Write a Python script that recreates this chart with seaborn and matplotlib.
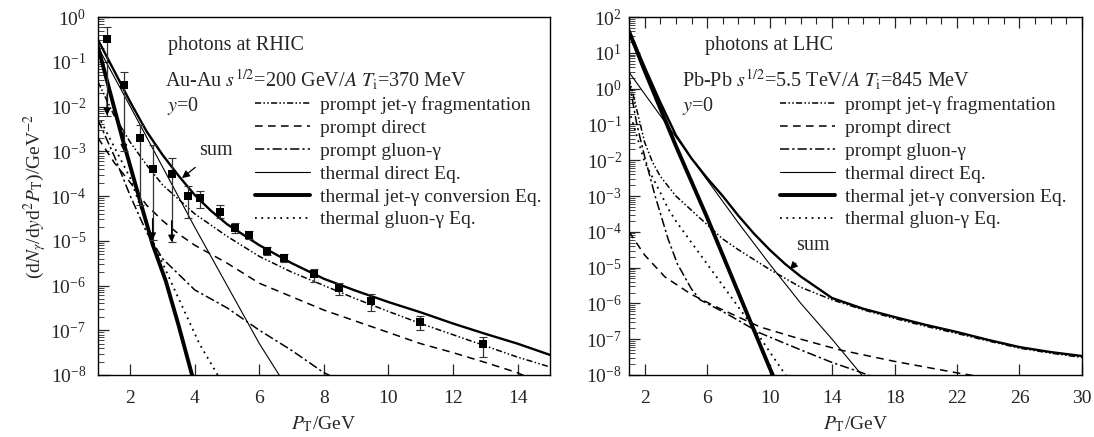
import numpy as np
import matplotlib
matplotlib.use("Agg")
import matplotlib.pyplot as plt
import seaborn as sns
from matplotlib.ticker import LogLocator, FixedLocator, MultipleLocator, NullFormatter

# ---------------- RHIC (left) : values as log10 -------------
rhic_sum_x = [1, 1.5, 2, 2.5, 3, 3.5, 4, 4.5, 5, 6, 7, 8, 9, 10, 11, 12, 13, 14, 15]
rhic_sum_lg = [-0.51, -1.2, -1.9, -2.55, -3.08, -3.55, -3.98, -4.33, -4.63, -5.1, -5.5, -5.85,
               -6.12, -6.37, -6.6, -6.85, -7.08, -7.3, -7.55]
rhic_frag_x = [1, 1.5, 2, 2.5, 3, 4, 5, 6, 7, 8, 9, 10, 11, 12, 13, 14, 15]
rhic_frag_lg = [-1.45, -2.2, -2.8, -3.3, -3.75, -4.4, -4.9, -5.35, -5.7, -6.0, -6.3, -6.58,
                -6.85, -7.1, -7.35, -7.6, -7.82]
rhic_direct_x = [1, 1.5, 2, 2.5, 3, 3.5, 4, 5, 6, 7, 8, 9, 10, 11, 12, 13, 14, 14.3]
rhic_direct_lg = [-2.7, -3.25, -3.7, -4.2, -4.55, -4.85, -5.1, -5.5, -5.95, -6.25, -6.55, -6.8,
                  -7.05, -7.3, -7.5, -7.72, -7.95, -8.05]
rhic_gluon_x = [1, 1.5, 2, 2.5, 3, 4, 5, 6, 7, 8, 8.3]
rhic_gluon_lg = [-2.3, -3.1, -4.0, -4.8, -5.4, -6.1, -6.5, -7.0, -7.45, -7.95, -8.05]
rhic_thdir_x = [1, 2, 3, 4, 5, 6, 6.7]
rhic_thdir_lg = [-0.67, -2.0, -3.35, -4.7, -6.0, -7.3, -8.1]
rhic_conv_x = [1, 1.75, 2.3, 2.7, 3.1, 3.5, 3.95]
rhic_conv_lg = [-0.67, -2.7, -4.1, -5.1, -5.9, -6.9, -8.1]
rhic_thglu_x = [1, 1.5, 2, 2.66, 3, 3.42, 4.14, 4.75]
rhic_thglu_lg = [-2.2, -2.9, -3.6, -4.95, -5.5, -6.17, -7.3, -8.05]

# PHENIX-like data points (log10 values), upper and lower ends of the bars
data_pt = [1.28, 1.80, 2.29, 2.69, 3.28, 3.80, 4.17, 4.78, 5.25, 5.68, 6.25, 6.77,
           7.68, 8.48, 9.46, 10.97, 12.94]
data_lg = [-0.49, -1.52, -2.70, -3.40, -3.51, -4.0, -4.04, -4.36, -4.71, -4.87, -5.23, -5.39,
           -5.74, -6.06, -6.35, -6.82, -7.31]
data_hi_lg = [-0.22, -1.22, -2.41, -2.86, -3.15, -3.78, -3.89, -4.2, -4.6, -4.78, -5.15, -5.3,
              -5.63, -5.94, -6.19, -6.68, -7.15]
data_lo_lg = [-2.2, -3.0, -4.2, -4.98, -5.03, -4.49, -4.27, -4.49, -4.82, -4.97, -5.31, -5.48,
              -5.92, -6.21, -6.57, -7.0, -7.6]
data_arrow = [1, 1, 0, 1, 1, 0, 0, 0, 0, 0, 0, 0, 0, 0, 0, 0, 0]

# ---------------- LHC (right) -------------
lhc_sum_x = [1, 2, 3, 4, 5, 6, 7, 8, 9, 10, 11, 12, 14, 16, 18, 20, 22, 24, 26, 28, 30]
lhc_sum_lg = [1.62, 0.6, -0.38, -1.3, -1.95, -2.5, -3.0, -3.55, -4.05, -4.5, -4.9, -5.25,
              -5.85, -6.15, -6.38, -6.6, -6.8, -7.02, -7.22, -7.36, -7.47]
lhc_frag_x = [1, 1.5, 2, 2.5, 3, 4, 5, 6, 7, 8, 10, 12, 14, 16, 18, 20, 22, 24, 26, 28, 30]
lhc_frag_lg = [0.3, -0.6, -1.5, -2.05, -2.45, -3.0, -3.4, -3.8, -4.2, -4.5, -5.05, -5.55,
               -5.9, -6.18, -6.42, -6.64, -6.84, -7.05, -7.25, -7.39, -7.51]
lhc_direct_x = [1, 2, 3.3, 5, 6.6, 9.4, 12, 14.5, 18, 22, 23.5]
lhc_direct_lg = [-4.0, -4.65, -5.26, -5.75, -6.1, -6.66, -7.0, -7.3, -7.62, -7.94, -8.05]
lhc_gluon_x = [1, 1.5, 2, 2.67, 3.5, 4.1, 5, 5.55, 7.3, 9.4, 12, 14, 15.8, 16.6]
lhc_gluon_lg = [0.2, -1.0, -1.9, -3.0, -4.2, -4.9, -5.6, -5.9, -6.3, -6.83, -7.3, -7.65, -7.92, -8.05]
lhc_thdir_x = [1, 2, 4, 6, 8, 10, 12, 14, 16]
lhc_thdir_lg = [0.46, -0.15, -1.35, -2.55, -3.75, -4.9, -6.0, -7.0, -8.05]
lhc_conv_x = [1, 2, 3, 4, 5, 6, 7, 8, 9, 10, 10.4]
lhc_conv_lg = [1.6, 0.5, -0.55, -1.6, -2.6, -3.6, -4.65, -5.7, -6.75, -7.8, -8.2]
lhc_thglu_x = [1, 2, 3, 3.5, 4, 5, 6, 7, 8, 9, 10, 11.1]
lhc_thglu_lg = [-0.6, -2.05, -2.9, -3.35, -3.7, -4.3, -4.9, -5.5, -6.1, -6.7, -7.35, -8.05]

legend_labels = ["prompt jet-γ fragmentation", "prompt direct", "prompt gluon-γ",
                 "thermal direct Eq.", "thermal jet-γ conversion Eq.", "thermal gluon-γ Eq."]

# ---------------- style -------------
sns.set_style("ticks")
plt.rcParams['font.family'] = ['Liberation Serif', 'DejaVu Serif']
plt.rcParams['mathtext.fontset'] = 'stix'
plt.rcParams['axes.linewidth'] = 1.0

styles = [
    dict(lw=1.1, ls=(0, (4, 1.5, 1, 1.5, 1, 1.5))),   # frag
    dict(lw=1.1, ls=(0, (5, 3.5))),                  # direct
    dict(lw=1.1, ls=(0, (6, 2, 1.5, 2))),            # gluon
    dict(lw=0.8, ls='-'),                            # thermal direct
    dict(lw=2.8, ls='-'),                            # conversion
    dict(lw=1.3, ls=(0, (1, 2.5))),                  # thermal gluon
]

fig = plt.figure(figsize=(10.94, 4.37), dpi=100)
ax1 = fig.add_axes([0.0896, 0.1419, 0.413, 0.819])
ax2 = fig.add_axes([0.575, 0.1419, 0.414, 0.819])


def draw_curves(ax, curves, sum_curve):
    handles = []
    for (x, lg), st, lab in zip(curves, styles, legend_labels):
        sns.lineplot(x=np.asarray(x, float), y=10.0 ** np.asarray(lg), ax=ax, color='black',
                     linewidth=st['lw'], linestyle=st['ls'], sort=False, estimator=None)
        ln = ax.lines[-1]
        ln.set_label(lab)
        handles.append(ln)
    sx, slg = sum_curve
    sns.lineplot(x=np.asarray(sx, float), y=10.0 ** np.asarray(slg), ax=ax, color='black',
                 linewidth=1.7, sort=False, estimator=None)
    return handles


h1 = draw_curves(ax1, [(rhic_frag_x, rhic_frag_lg), (rhic_direct_x, rhic_direct_lg),
                       (rhic_gluon_x, rhic_gluon_lg), (rhic_thdir_x, rhic_thdir_lg),
                       (rhic_conv_x, rhic_conv_lg), (rhic_thglu_x, rhic_thglu_lg)],
                 (rhic_sum_x, rhic_sum_lg))
h2 = draw_curves(ax2, [(lhc_frag_x, lhc_frag_lg), (lhc_direct_x, lhc_direct_lg),
                       (lhc_gluon_x, lhc_gluon_lg), (lhc_thdir_x, lhc_thdir_lg),
                       (lhc_conv_x, lhc_conv_lg), (lhc_thglu_x, lhc_thglu_lg)],
                 (lhc_sum_x, lhc_sum_lg))

# data points with error bars
dy = 10.0 ** np.asarray(data_lg)
dhi = 10.0 ** np.asarray(data_hi_lg)
dlo = 10.0 ** np.asarray(data_lo_lg)
ax1.errorbar(data_pt, dy, yerr=[dy - dlo, dhi - dy], fmt='none', ecolor='#333333',
             elinewidth=0.9, capsize=3, capthick=0.8, zorder=3)
sns.scatterplot(x=data_pt, y=dy, ax=ax1, marker='s', color='black', s=38,
                edgecolor='black', linewidth=0, zorder=4)
for xp, yp, lo, fl in zip(data_pt, dy, dlo, data_arrow):
    if fl:
        ax1.annotate('', xy=(xp, lo), xytext=(xp, lo * 3.0),
                     arrowprops=dict(arrowstyle='-|>', color='black', lw=0.9,
                                     mutation_scale=10, shrinkA=0, shrinkB=0))

# axes setup
for ax, xlim, ylim, xt, ypad in [(ax1, (1, 15), (1e-8, 1), [2, 4, 6, 8, 10, 12, 14], 8.5),
                                 (ax2, (1, 30), (1e-8, 1e2), [2, 6, 10, 14, 18, 22, 26, 30], 5)]:
    ax.set_yscale('log')
    ax.set_xlim(*xlim)
    ax.set_ylim(*ylim)
    ax.xaxis.set_major_locator(FixedLocator(xt))
    ax.yaxis.set_major_locator(LogLocator(base=10, numticks=20))
    ax.yaxis.set_minor_locator(LogLocator(base=10, subs=np.arange(2, 10), numticks=50))
    ax.yaxis.set_minor_formatter(NullFormatter())
    ax.tick_params(axis='both', which='major', direction='in', length=8, width=0.9,
                   labelsize=14, right=False, top=False)
    ax.tick_params(axis='x', which='major', pad=11)
    ax.tick_params(axis='y', which='major', pad=ypad)
    ax.tick_params(axis='y', which='minor', direction='in', length=4, width=0.6, right=False)
    ax.tick_params(axis='x', which='minor', bottom=False, top=False)
    for sp in ax.spines.values():
        sp.set_visible(True)
        sp.set_color('black')
    ax.set_xlabel(r'$P_\mathrm{T}$/GeV', fontsize=14, labelpad=5)

ax2.xaxis.set_minor_locator(MultipleLocator(1))
ax2.tick_params(axis='x', which='minor', top=True, bottom=False, direction='in', length=5, width=0.8)
ax2.tick_params(axis='x', which='major', top=True)

ax1.set_ylabel(r'(d$N_\gamma$/d$y$d$^2$$P_\mathrm{T}$)/GeV$^{-2}$', fontsize=14, labelpad=1)

# annotations
ax1.text(0.155, 0.922, 'photons at RHIC', transform=ax1.transAxes, fontsize=14.5, va='center')
ax1.text(0.148, 0.824, r'Au-Au $s^{1/2}$=200 GeV/$A$ $T_\mathrm{i}$=370 MeV',
         transform=ax1.transAxes, fontsize=14.5, va='center')
ax1.text(0.153, 0.751, r'$y$=0', transform=ax1.transAxes, fontsize=14.5, va='center')
ax2.text(0.168, 0.922, 'photons at LHC', transform=ax2.transAxes, fontsize=14.5, va='center')
ax2.text(0.117, 0.824, r'Pb-Pb $s^{1/2}$=5.5 TeV/$A$ $T_\mathrm{i}$=845 MeV',
         transform=ax2.transAxes, fontsize=14.5, va='center')
ax2.text(0.117, 0.751, r'$y$=0', transform=ax2.transAxes, fontsize=14.5, va='center')

ax1.annotate('sum', xy=(3.6, 10 ** -3.6), xytext=(0.262, 0.628), textcoords='axes fraction',
             fontsize=14.5, ha='center', va='center',
             arrowprops=dict(arrowstyle='-|>', color='black', lw=0.9, mutation_scale=11,
                             shrinkA=5, shrinkB=0))
ax2.annotate('sum', xy=(11.3, 10 ** -5.05), xytext=(0.406, 0.362), textcoords='axes fraction',
             fontsize=14.5, ha='center', va='center',
             arrowprops=dict(arrowstyle='-|>', color='black', lw=0.9, mutation_scale=11,
                             shrinkA=5, shrinkB=0))

for ax, h, x0 in [(ax1, h1, 0.347), (ax2, h2, 0.333)]:
    ax.legend(handles=h, loc='upper left', bbox_to_anchor=(x0, 0.779), frameon=False,
              fontsize=14, handlelength=2.85, handletextpad=0.5, labelspacing=0.27,
              borderpad=0, borderaxespad=0)

fig.savefig('out.png', dpi=100)
